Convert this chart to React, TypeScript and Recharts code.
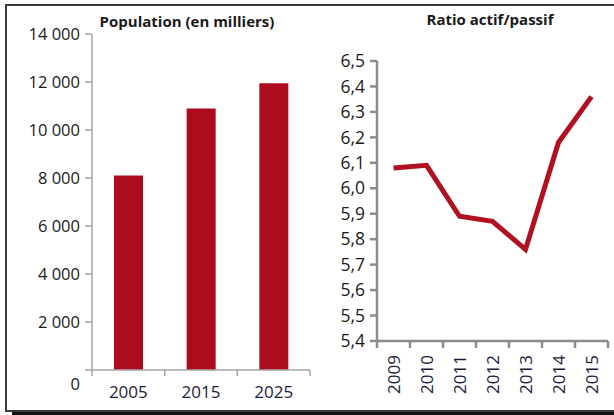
import React from 'react';
import { BarChart, Bar, LineChart, Line, XAxis, YAxis } from 'recharts';

const popYears = ['2005', '2015', '2025'];
const popValues = [8100, 10900, 11950];
const popTicks = [0, 2000, 4000, 6000, 8000, 10000, 12000, 14000];

const ratioYears = ['2009', '2010', '2011', '2012', '2013', '2014', '2015'];
const ratioValues = [6.08, 6.09, 5.89, 5.87, 5.76, 6.18, 6.36];
const ratioTicks = [5.4, 5.5, 5.6, 5.7, 5.8, 5.9, 6.0, 6.1, 6.2, 6.3, 6.4, 6.5];

const popData = popYears.map((year, i) => ({ year, value: popValues[i] }));
const ratioData = ratioYears.map((year, i) => ({ year, value: ratioValues[i] }));

const RED = '#ad0c1f';
const FONT = '"Open Sans", sans-serif';

const thousands = (v: number) => String(v).replace(/\B(?=(\d{3})+(?!\d))/g, ' ');
const comma = (v: number) => v.toFixed(1).replace('.', ',');

// y labels; the "0" sits a bit below the axis in the original
function PopYTick(props: any) {
  const { x, y, payload } = props;
  const shift = payload.value === 0 ? 14 : 0;
  return (
    <text x={x} y={y + shift} dy="0.355em" textAnchor="end" fill="#1a1a1a" fontSize={16.5} fontFamily={FONT}>
      {thousands(payload.value)}
    </text>
  );
}

// tick marks sit on the category boundaries, label in the middle
function PopTick(props: any) {
  const { x, y, payload, index, visibleTicksCount } = props;
  const off = payload.offset || 0;
  return (
    <g>
      <line x1={x - off} x2={x - off} y1={y} y2={y + 6} stroke="#a6a6a6" strokeWidth={1.5} />
      {index === visibleTicksCount - 1 && (
        <line x1={x + off} x2={x + off} y1={y} y2={y + 6} stroke="#a6a6a6" strokeWidth={1.5} />
      )}
      <text x={x} y={y + 28} textAnchor="middle" fill="#1c1c3a" fontSize={17} fontFamily={FONT}>
        {payload.value}
      </text>
    </g>
  );
}

function RatioTick(props: any) {
  const { x, y, payload, index, visibleTicksCount } = props;
  const off = payload.offset || 0;
  return (
    <g>
      <line x1={x - off} x2={x - off} y1={y} y2={y + 7} stroke="#8c8c8c" strokeWidth={2.5} />
      {index === visibleTicksCount - 1 && (
        <line x1={x + off} x2={x + off} y1={y} y2={y + 7} stroke="#8c8c8c" strokeWidth={2.5} />
      )}
      <text
        x={x}
        y={y + 14}
        transform={`rotate(-90 ${x} ${y + 14})`}
        textAnchor="end"
        dominantBaseline="central"
        fill="#1c1c3a"
        fontSize={17}
        fontFamily={FONT}
      >
        {payload.value}
      </text>
    </g>
  );
}

export default function App() {
  return (
    <div style={{ position: 'absolute', left: 0, top: 0, width: 614, height: 415, overflow: 'hidden', background: '#fff', fontFamily: FONT }}>
      <div
        style={{
          position: 'absolute',
          left: 5,
          top: 4,
          width: 700,
          height: 404,
          border: '2px solid #3b3b3b',
          boxShadow: '7px 3px 0 #111',
        }}
      />

      <div style={{ position: 'absolute', left: 87, top: 11, width: 200, textAlign: 'center', fontSize: 15, fontWeight: 700, color: '#1a1a1a', whiteSpace: 'nowrap' }}>
        Population (en milliers)
      </div>
      <div style={{ position: 'absolute', left: 390, top: 9, width: 200, textAlign: 'center', fontSize: 15, fontWeight: 700, color: '#1a1a1a', whiteSpace: 'nowrap' }}>
        Ratio actif/passif
      </div>

      <div style={{ position: 'absolute', left: 0, top: 0 }}>
        <BarChart width={320} height={415} data={popData} margin={{ top: 34, right: 10, bottom: 15, left: 0 }}>
          <XAxis
            dataKey="year"
            height={30}
            tickLine={false}
            tickSize={0}
            tickMargin={0}
            axisLine={{ stroke: '#a6a6a6', strokeWidth: 1.5 }}
            tick={<PopTick />}
            interval={0}
          />
          <YAxis
            width={92}
            domain={[0, 14000]}
            ticks={popTicks}
            tickSize={7}
            tickMargin={5}
            axisLine={{ stroke: '#a6a6a6', strokeWidth: 1.5 }}
            tickLine={{ stroke: '#a6a6a6', strokeWidth: 1.5 }}
            tick={<PopYTick />}
            interval={0}
          />
          <Bar dataKey="value" fill={RED} barSize={29} isAnimationActive={false} />
        </BarChart>
      </div>

      <div style={{ position: 'absolute', left: 290, top: 0 }}>
        <LineChart width={324} height={415} data={ratioData} margin={{ top: 61, right: 6, bottom: 14, left: 0 }}>
          <XAxis
            dataKey="year"
            scale="band"
            height={60}
            tickLine={false}
            tickSize={0}
            tickMargin={0}
            axisLine={{ stroke: '#8c8c8c', strokeWidth: 2.5 }}
            tick={<RatioTick />}
            interval={0}
          />
          <YAxis
            width={87}
            domain={[5.4, 6.5]}
            ticks={ratioTicks}
            tickFormatter={comma}
            tickSize={7}
            tickMargin={5}
            axisLine={{ stroke: '#8c8c8c', strokeWidth: 2.5 }}
            tickLine={{ stroke: '#8c8c8c', strokeWidth: 2.5 }}
            tick={{ fill: '#1a1a1a', fontSize: 17.5, fontFamily: FONT }}
            interval={0}
          />
          <Line
            type="linear"
            dataKey="value"
            stroke="#b0101f"
            strokeWidth={5}
            dot={false}
            activeDot={false}
            isAnimationActive={false}
          />
        </LineChart>
      </div>
    </div>
  );
}
